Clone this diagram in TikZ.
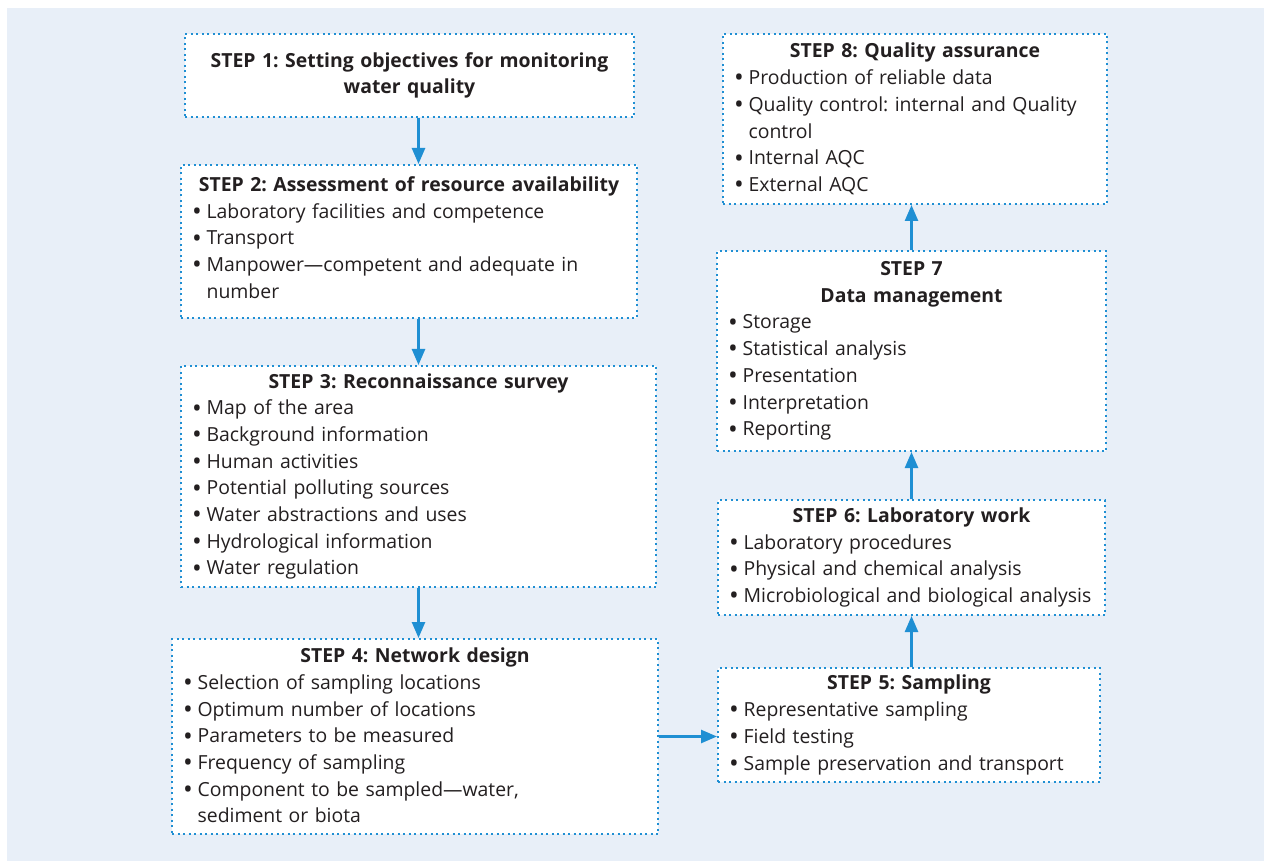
\documentclass[tikz,border=0pt]{standalone}
\usepackage{fontspec}
\setmainfont{Open Sans}
\usetikzlibrary{arrows.meta, positioning, calc}
\definecolor{wblue}{HTML}{1F8FD3}
\definecolor{wbg}{HTML}{E8EFF8}
\definecolor{wtext}{HTML}{231F20}
\setlength{\parindent}{0pt}
\frenchspacing
\newcommand{\stepfont}{\fontsize{9.7pt}{13.35pt}\selectfont}
\newcommand{\bul}{\raisebox{-0.22ex}{\fontsize{13pt}{13pt}\selectfont\textbullet}\hspace{0.25em}}
\newcommand{\ttl}[1]{{\centering\bfseries #1\par}}
\newcommand{\itm}[1]{\par\mbox{\bul #1}}
\newcommand{\cnt}[1]{\par\mbox{\phantom{\bul}#1}}

\begin{document}
\begin{tikzpicture}[x=0.5pt, y=-0.5pt,
  stepbox/.style={draw=wblue, line width=1pt, dash pattern=on 1pt off 1.75pt,
    fill=white, anchor=north west, inner xsep=5.5pt, inner ysep=2pt,
    font=\stepfont, text=wtext},
  flow/.style={wblue, line width=1.25pt, -{Triangle[width=6.5pt, length=8pt]}}]
  \useasboundingbox (0,0) rectangle (1264,861);
  \fill[wbg] (7,8) rectangle (1264,861);

  % left column
  \node[stepbox, text width=213.5pt, minimum height=41.5pt] (s1) at (184,33)
    {\ttl{STEP 1: Setting objectives for monitoring\\water quality}};
  \node[stepbox, text width=217pt, minimum height=76.5pt] (s2) at (180,164)
    {\ttl{STEP 2: Assessment of resource availability}
     \itm{Laboratory facilities and competence}
     \itm{Transport}
     \itm{Manpower—competent and adequate in}
     \cnt{number}\vspace{3pt}};
  \node[stepbox, text width=226.5pt, minimum height=110.5pt] (s3) at (180,365)
    {\ttl{STEP 3: Reconnaissance survey}
     \itm{Map of the area}
     \itm{Background information}
     \itm{Human activities}
     \itm{Potential polluting sources}
     \itm{Water abstractions and uses}
     \itm{Hydrological information}
     \itm{Water regulation}};
  \node[stepbox, text width=232pt, minimum height=97.5pt] (s4) at (171,638)
    {\ttl{STEP 4: Network design}
     \itm{Selection of sampling locations}
     \itm{Optimum number of locations}
     \itm{Parameters to be measured}
     \itm{Frequency of sampling}
     \itm{Component to be sampled—water,}
     \cnt{sediment or biota}};

  % right column
  \node[stepbox, text width=180pt, minimum height=57pt] (s5) at (717,667)
    {\ttl{STEP 5: Sampling}
     \itm{Representative sampling}
     \itm{Field testing}
     \itm{Sample preservation and transport}};
  \node[stepbox, text width=182.5pt, minimum height=57.5pt] (s6) at (717,499)
    {\ttl{STEP 6: Laboratory work}
     \itm{Laboratory procedures}
     \itm{Physical and chemical analysis}
     \itm{Microbiological and biological analysis}};
  \node[stepbox, text width=183.5pt, minimum height=100pt] (s7) at (716,250)
    {\ttl{STEP 7\\Data management}
     \itm{Storage}
     \itm{Statistical analysis}
     \itm{Presentation}
     \itm{Interpretation}
     \itm{Reporting}};
  \node[stepbox, text width=181pt, minimum height=85pt] (s8) at (722,33)
    {\ttl{STEP 8: Quality assurance}
     \itm{Production of reliable data}
     \itm{Quality control: internal and Quality}
     \cnt{control}
     \itm{Internal AQC}
     \itm{External AQC}};

  % arrows
  \draw[flow] (s1.south -| s3.north) -- (s2.north -| s3.north);
  \draw[flow] (s2.south -| s3.north) -- (s3.north);
  \draw[flow] (s3.south) -- (s4.north -| s3.south);
  \draw[flow] (s4.east) -- (s4.east -| s5.west);
  \draw[flow] (s5.north -| s6.south) -- (s6.south);
  \draw[flow] (s6.north) -- (s7.south);
  \draw[flow] (s7.north) -- (s8.south -| s7.north);
\end{tikzpicture}
\end{document}
